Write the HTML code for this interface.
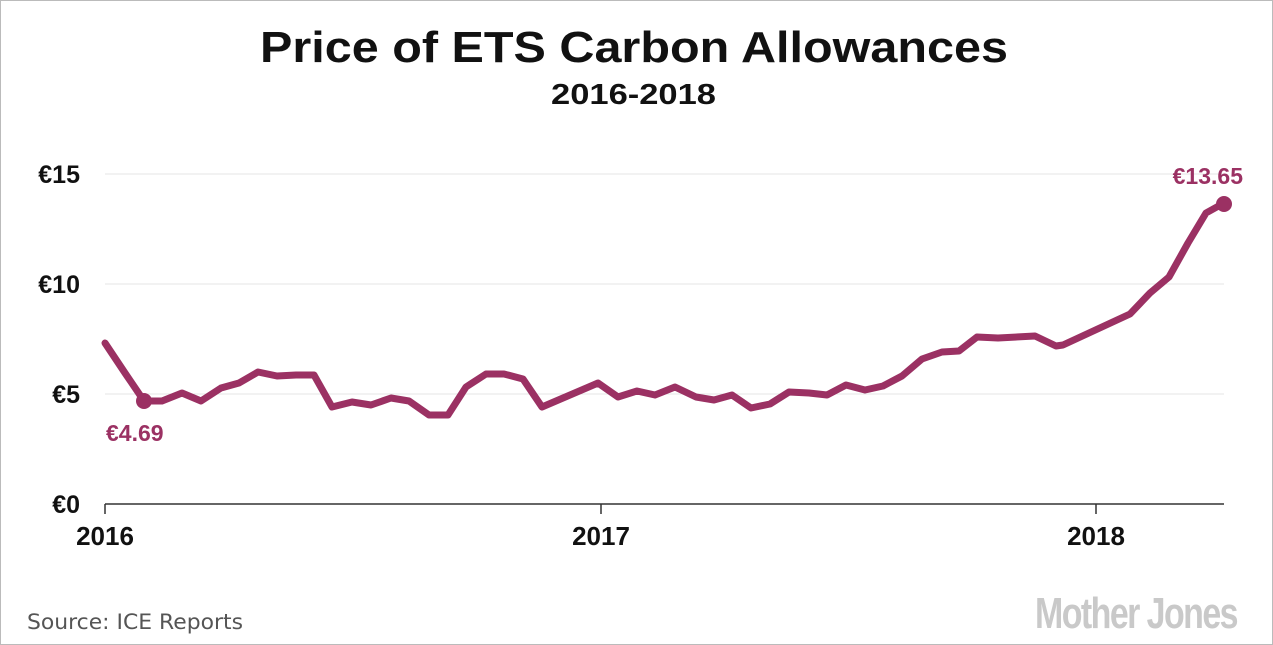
<!DOCTYPE html>
<html><head><meta charset="utf-8"><style>
html,body{margin:0;padding:0;background:#fff}
svg{display:block}
</style></head><body>
<svg width="1273" height="645" viewBox="0 0 1273 645" xmlns="http://www.w3.org/2000/svg" font-family="Liberation Sans, sans-serif">
<rect x="0.5" y="0.5" width="1272" height="644" fill="#fff" stroke="#bbb"/>
<text x="260" y="62" font-size="44" font-weight="bold" fill="#111" textLength="748" lengthAdjust="spacingAndGlyphs">Price of ETS Carbon Allowances</text>
<text x="551" y="104" font-size="29" font-weight="bold" fill="#111" textLength="165" lengthAdjust="spacingAndGlyphs">2016-2018</text>
<g stroke="#e6e6e6" stroke-width="1">
<line x1="105" y1="174" x2="1224" y2="174"/>
<line x1="105" y1="284" x2="1224" y2="284"/>
<line x1="105" y1="394" x2="1224" y2="394"/>
</g>
<line x1="105" y1="504" x2="1224" y2="504" stroke="#333" stroke-width="1.5"/>
<g stroke="#333" stroke-width="1.5">
<line x1="105" y1="504" x2="105" y2="514"/>
<line x1="601" y1="504" x2="601" y2="514"/>
<line x1="1096" y1="504" x2="1096" y2="514"/>
</g>
<g font-size="25" font-weight="bold" fill="#111" text-anchor="end">
<text x="80" y="183">€15</text>
<text x="80" y="293">€10</text>
<text x="80" y="403">€5</text>
<text x="80" y="513">€0</text>
</g>
<g font-size="26" font-weight="bold" fill="#111" text-anchor="middle">
<text x="105" y="545">2016</text>
<text x="601" y="545">2017</text>
<text x="1096" y="545">2018</text>
</g>
<polyline fill="none" stroke="#9b3163" stroke-width="7" stroke-linejoin="round" stroke-linecap="round" points="105,343 125,373 144,401 162,401 182,393 201,401 221,388 239,383 258,372 277,376 296,375 314,375 332,407 352,402 371,405 391,398 409,401 429,415 448,415 466,387 486,374 504,374 523,379 542,407 598,383 618,397 637,391 655,395 675,387 696,397 714,400 732,395 751,408 770,404 789,392 809,393 827,395 846,385 865,390 883,386 902,376 922,359 942,352 959,351 977,337 998,338 1035,336 1056,346 1063,345 1130,314 1150,293 1169,277 1188,243 1206,213 1224,203"/>
<circle cx="144" cy="401" r="8" fill="#9b3163"/>
<circle cx="1224" cy="204" r="8" fill="#9b3163"/>
<text x="106" y="441" font-size="23" font-weight="bold" fill="#9b3163">€4.69</text>
<text x="1243" y="184" font-size="23" font-weight="bold" fill="#9b3163" text-anchor="end">€13.65</text>
<text x="27" y="629" font-size="21" fill="#555" font-family="DejaVu Sans, sans-serif" textLength="216" lengthAdjust="spacingAndGlyphs">Source: ICE Reports</text>
<text x="1237" y="628" font-size="44" font-weight="bold" fill="#c9c9c9" text-anchor="end" textLength="202" lengthAdjust="spacingAndGlyphs" letter-spacing="-2">Mother Jones</text>
</svg>
</body></html>
